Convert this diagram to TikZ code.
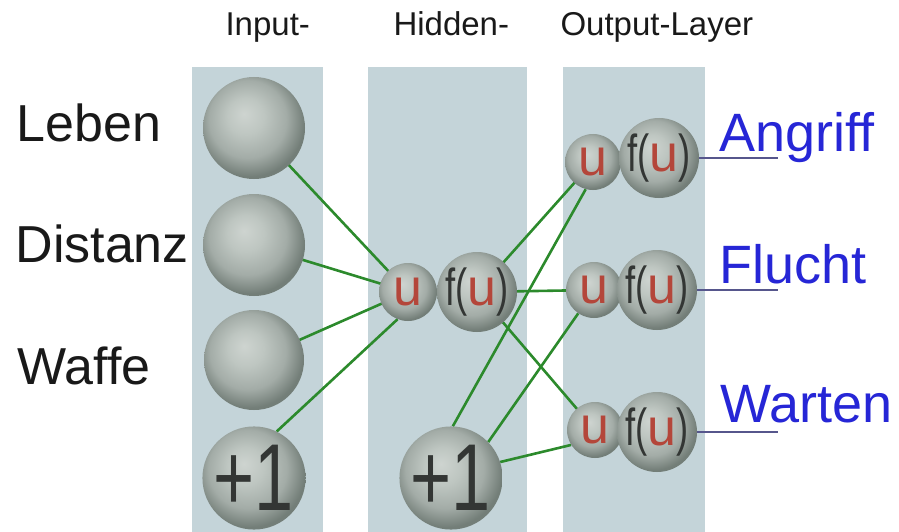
\documentclass[tikz,border=0pt]{standalone}
\usepackage{fontspec}
\setmainfont{Liberation Sans}
\newfontfamily\narrowfont[FakeStretch=0.7]{Liberation Sans}
\newfontfamily\onefont[FakeStretch=0.74]{Liberation Sans}

\definecolor{panelfill}{HTML}{C4D4D9}
\definecolor{wiregreen}{HTML}{2C8A2C}
\definecolor{outline}{HTML}{56568C}
\definecolor{labelblue}{HTML}{2626D6}
\definecolor{ured}{HTML}{B4463A}
\definecolor{glyphgray}{HTML}{333634}
\definecolor{orbA}{HTML}{CED4D0}
\definecolor{orbB}{HTML}{BEC6C1}
\definecolor{orbC}{HTML}{A3ACA7}
\definecolor{orbD}{HTML}{737E78}

% soft grey-green sphere
\pgfdeclareradialshading{orb}{\pgfpoint{-5bp}{7bp}}{%
  color(0bp)=(orbA); color(9bp)=(orbB); color(19bp)=(orbC);
  color(27bp)=(orbD); color(50bp)=(orbD)}

\pgfdeclarelayer{panels}
\pgfdeclarelayer{wires}
\pgfsetlayers{panels,wires,main}

\tikzset{
  neuron/.style={circle, inner sep=0pt, shading=orb, minimum size=#1},
  wire/.style={draw=wiregreen, line width=2.6pt},
  outwire/.style={draw=outline, line width=1.5pt},
  panel/.style={fill=panelfill, draw=none},
  heading/.style={anchor=base west, font=\fontsize{33}{33}\selectfont, text=black!90},
  inlabel/.style={anchor=base west, font=\fontsize{52}{52}\selectfont, text=black!90},
  outlabel/.style={anchor=base west, font=\fontsize{54}{54}\selectfont, text=labelblue},
  sumtext/.style={font=\fontsize{52}{52}\selectfont, text=ured},
  acttext/.style={font=\fontsize{52}{52}\selectfont, text=glyphgray},
  biastext/.style={font=\onefont\fontsize{95}{95}\selectfont, text=glyphgray},
}

\begin{document}
\begin{tikzpicture}[x=1pt, y=-1pt]
\useasboundingbox (0,0) rectangle (899,532);

% layer columns
\begin{pgfonlayer}{panels}
  \path[panel] (192,67) rectangle (323,532);
  \path[panel] (368,67) rectangle (527,532);
  \path[panel] (563,67) rectangle (705,532);
\end{pgfonlayer}

% headings
\node[heading] (hIn)  at (222,36) {Input-};
\node[heading] (hHid) at (390,36) {Hidden-};
\node[heading] (hOut) at (557,36) {Output-Layer};

% input layer
\node[neuron=102] (i1) at (254,128) {};
\node[neuron=102] (i2) at (254,245) {};
\node[neuron=100] (i3) at (254,360) {};
\node[neuron=102, biastext] (ib) at (254,478) {+1};

% hidden layer
\node[neuron=58, sumtext] (hu) at (408,292) {u};
\node[neuron=80, acttext] (hf) at (477,292) {{\narrowfont f(}\textcolor{ured}{u}{\narrowfont )}};
\node[neuron=102, biastext] (hb) at (451,478) {+1};

% output layer
\node[neuron=56, sumtext] (ou1) at (593,162) {u};
\node[neuron=80, acttext] (of1) at (659,158) {{\narrowfont f(}\textcolor{ured}{u}{\narrowfont )}};
\node[neuron=56, sumtext] (ou2) at (594,290) {u};
\node[neuron=80, acttext] (of2) at (657,290) {{\narrowfont f(}\textcolor{ured}{u}{\narrowfont )}};
\node[neuron=56, sumtext] (ou3) at (595,430) {u};
\node[neuron=80, acttext] (of3) at (657,432) {{\narrowfont f(}\textcolor{ured}{u}{\narrowfont )}};

% input names
\node[inlabel] (lLeben)   at (13,142) {Leben};
\node[inlabel] (lDistanz) at (12,262) {Distanz};
\node[inlabel] (lWaffe)   at (14,384) {Waffe};

% output names
\node[outlabel] (lAngriff) at (716,151) {Angriff};
\node[outlabel] (lFlucht)  at (716,283) {Flucht};
\node[outlabel] (lWarten)  at (717,422) {Warten};

\coordinate (e1) at (778,158);
\coordinate (e2) at (778,290);
\coordinate (e3) at (778,432);

% connections
\begin{pgfonlayer}{wires}
  \draw[wire] (i1.center) -- (hu.center);
  \draw[wire] (i2.center) -- (hu.center);
  \draw[wire] (i3.center) -- (hu.center);
  \draw[wire] (ib.64) -- (hu.249);

  \draw[wire] (hf.center) -- (ou1.center);
  \draw[wire] (hf.center) -- (ou2.center);
  \draw[wire] (hf.center) -- (ou3.center);

  \draw[wire] (hb.88) -- (ou1.255);
  \draw[wire] (hb.44) -- (ou2.236);
  \draw[wire] (hb.18) -- (ou3.212);

  \draw[outwire] (of1.center) -- (e1);
  \draw[outwire] (of2.center) -- (e2);
  \draw[outwire] (of3.center) -- (e3);
\end{pgfonlayer}
\end{tikzpicture}
\end{document}
